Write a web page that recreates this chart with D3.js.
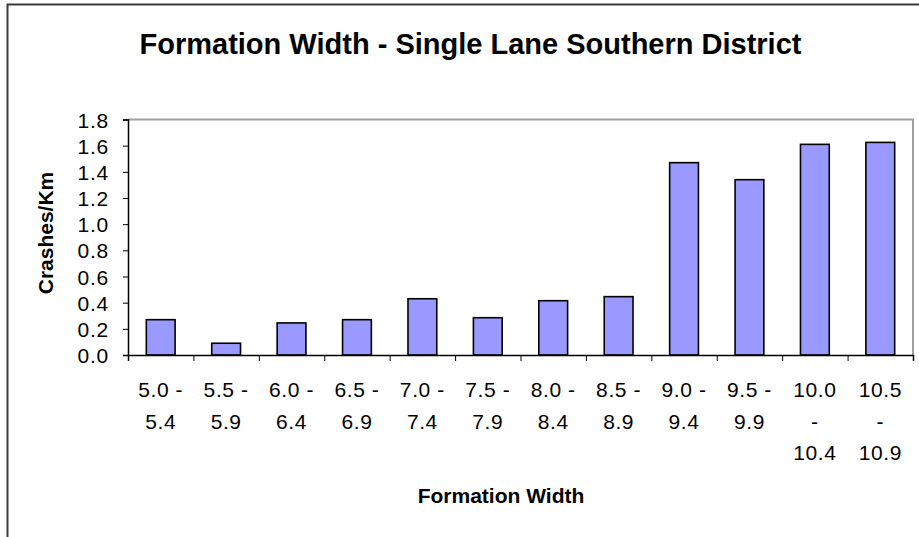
<!DOCTYPE html>
<html>
<head>
<meta charset="utf-8">
<script src="https://cdn.jsdelivr.net/npm/d3@7"></script>
<style>
  html, body { margin: 0; padding: 0; background: #fff; }
  svg { display: block; font-family: "Liberation Sans", Arial, sans-serif; }
</style>
</head>
<body>
<svg id="chart" width="919" height="537"></svg>
<script>
const categories = ["5.0 - 5.4","5.5 - 5.9","6.0 - 6.4","6.5 - 6.9","7.0 - 7.4","7.5 - 7.9","8.0 - 8.4","8.5 - 8.9","9.0 - 9.4","9.5 - 9.9","10.0 - 10.4","10.5 - 10.9"];
const tickLines = [["5.0 -","5.4"],["5.5 -","5.9"],["6.0 -","6.4"],["6.5 -","6.9"],["7.0 -","7.4"],["7.5 -","7.9"],["8.0 -","8.4"],["8.5 -","8.9"],["9.0 -","9.4"],["9.5 -","9.9"],["10.0","-","10.4"],["10.5","-","10.9"]];
const crashesPerKm = [0.27, 0.09, 0.245, 0.27, 0.43, 0.285, 0.415, 0.446, 1.47, 1.34, 1.61, 1.625];
const yTicks = [0, 0.2, 0.4, 0.6, 0.8, 1.0, 1.2, 1.4, 1.6, 1.8];
const chartTitle = "Formation Width - Single Lane Southern District";
const xTitle = "Formation Width";
const yTitle = "Crashes/Km";

const svg = d3.select("#chart");
const plot = {left: 128, right: 913, top: 119.5, bottom: 355};

// outer frame
svg.append("rect").attr("x", 7.5).attr("y", 4.5).attr("width", 1000).attr("height", 1000)
  .attr("fill", "none").attr("stroke", "#3a3a3a").attr("stroke-width", 2);

const x = d3.scaleBand().domain(categories).range([plot.left, plot.right]).paddingInner(0.56).paddingOuter(0.28);
const y = d3.scaleLinear().domain([0, 1.8]).range([plot.bottom, plot.top]);

// plot area border (top & right)
svg.append("path")
  .attr("d", `M${plot.left},${plot.top}H${plot.right}V${plot.bottom}`)
  .attr("fill", "none").attr("stroke", "#a0a0a0").attr("stroke-width", 2);

// bars
svg.append("g").selectAll("rect").data(crashesPerKm).join("rect")
  .attr("x", (d, i) => x(categories[i]))
  .attr("width", x.bandwidth())
  .attr("y", d => y(d))
  .attr("height", d => y(0) - y(d))
  .attr("fill", "#9999ff").attr("stroke", "#000").attr("stroke-width", 1.6);

// y axis
const yAxis = svg.append("g").attr("transform", `translate(${plot.left},0)`)
  .call(d3.axisLeft(y).tickValues(yTicks).tickFormat(d3.format(".1f")).tickSize(5).tickPadding(14));
yAxis.select(".domain").attr("stroke", "#000").attr("stroke-width", 1.5);
yAxis.selectAll(".tick line").attr("stroke", "#000");
yAxis.selectAll("text").attr("font-size", 21).attr("letter-spacing", 0.8).attr("fill", "#000")
  .attr("font-family", "Liberation Sans, Arial, sans-serif").attr("dy", "0.36em");

// x axis
const xLin = d3.scaleLinear().domain([0, categories.length]).range([plot.left, plot.right]);
const xAxis = svg.append("g").attr("transform", `translate(0,${plot.bottom})`)
  .call(d3.axisBottom(xLin).tickValues(d3.range(categories.length + 1)).tickSize(6).tickFormat(""));
xAxis.select(".domain").attr("stroke", "#000").attr("stroke-width", 1.5);
xAxis.selectAll(".tick line").attr("stroke", "#000");

// x tick labels (multi-line)
const lbl = svg.append("g").attr("font-size", 21).attr("letter-spacing", 0.6).attr("text-anchor", "middle").attr("fill", "#000");
tickLines.forEach((lines, i) => {
  const cx = x(categories[i]) + x.bandwidth() / 2;
  const t = lbl.append("text").attr("x", cx).attr("y", 397);
  lines.forEach((ln, j) => {
    t.append("tspan").attr("x", cx).attr("y", 397 + j * 31.6).text(ln);
  });
});

// titles
svg.append("text").attr("x", 470.5).attr("y", 54).attr("text-anchor", "middle")
  .attr("font-size", 29).attr("font-weight", "bold").attr("fill", "#000").text(chartTitle);
svg.append("text").attr("x", 501).attr("y", 503).attr("text-anchor", "middle")
  .attr("font-size", 21).attr("font-weight", "bold").attr("fill", "#000").text(xTitle);
svg.append("text").attr("transform", "translate(53,233) rotate(-90)").attr("text-anchor", "middle")
  .attr("font-size", 21).attr("font-weight", "bold").attr("fill", "#000").text(yTitle);
</script>
</body>
</html>
